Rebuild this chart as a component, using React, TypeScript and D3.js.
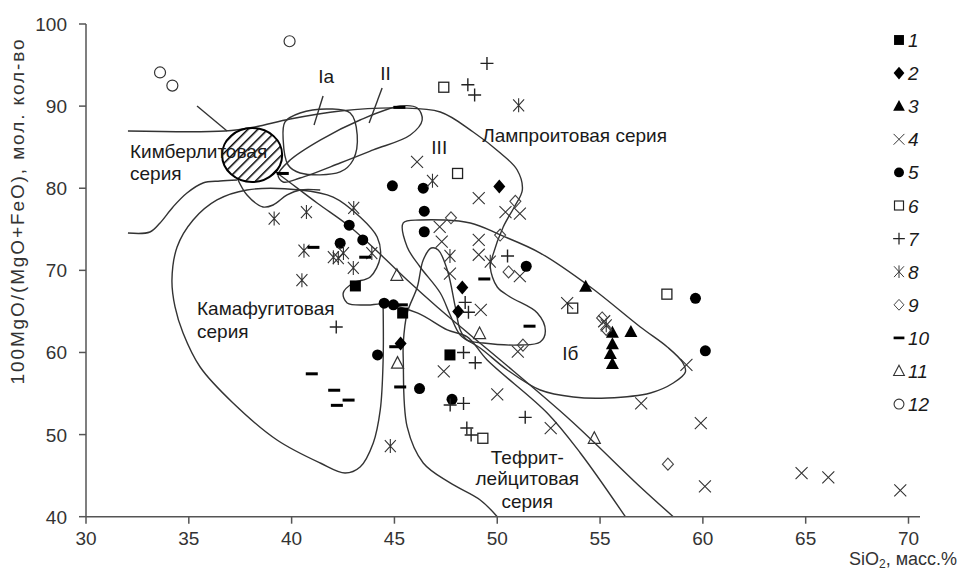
import * as d3 from "d3";

const xTicks = [30, 35, 40, 45, 50, 55, 60, 65, 70];
const yTicks = [40, 50, 60, 70, 80, 90, 100];

// point groups (SiO2, 100MgO/(MgO+FeO))
const s1 = [[43.1, 68.1], [45.4, 64.8], [47.7, 59.7]];
const s2 = [[50.1, 80.2], [48.3, 67.9], [48.1, 65.0], [45.3, 61.1]];
const s3 = [[54.3, 68.0], [56.5, 62.5], [55.6, 62.4], [55.6, 61.0], [55.5, 59.8], [55.6, 58.6]];
const s4 = [[46.1, 83.2], [49.1, 78.8], [50.4, 77.1], [51.1, 76.9], [47.2, 75.3], [47.3, 73.5], [49.1, 73.7], [49.1, 71.9], [51.1, 69.3], [47.7, 69.6], [49.2, 65.2], [53.4, 66.0], [55.2, 63.8], [51.0, 60.1], [47.4, 57.7], [50.0, 54.9], [52.6, 50.8], [59.2, 58.5], [57.0, 53.8], [59.9, 51.4], [60.1, 43.7], [64.8, 45.3], [66.1, 44.8], [69.6, 43.2]];
const s5 = [[44.9, 80.3], [46.4, 80.0], [46.45, 77.2], [46.45, 74.7], [42.8, 75.5], [43.46, 73.7], [42.36, 73.3], [44.5, 66.0], [44.95, 65.8], [44.18, 59.7], [51.41, 70.5], [46.22, 55.6], [47.8, 54.3], [59.64, 66.6], [60.12, 60.2]];
const s6 = [[47.4, 92.3], [48.07, 81.8], [53.67, 65.4], [58.25, 67.1], [49.3, 49.55]];
const s7 = [[49.5, 95.2], [48.57, 92.6], [48.9, 91.35], [50.5, 71.75], [48.44, 66.1], [48.6, 64.9], [48.36, 60.0], [48.93, 58.75], [47.71, 53.6], [48.36, 53.8], [51.36, 52.1], [48.52, 50.8], [48.73, 49.95], [42.17, 63.1]];
const s8 = [[51.04, 90.1], [46.85, 80.9], [39.15, 76.3], [40.72, 77.1], [40.6, 72.4], [40.5, 68.8], [43.02, 77.6], [42.03, 71.6], [42.27, 71.5], [42.52, 72.1], [43.0, 70.3], [43.9, 72.1], [47.7, 71.75], [49.66, 71.05], [55.3, 63.3], [44.8, 48.6]];
const s9 = [[47.75, 76.4], [50.88, 78.4], [50.14, 74.3], [50.55, 69.8], [51.25, 60.9], [55.1, 64.2], [55.3, 62.8], [58.3, 46.4]];
const s10 = [[45.24, 89.85], [39.57, 81.8], [41.06, 72.8], [43.58, 71.6], [45.36, 65.8], [45.04, 60.7], [49.37, 68.95], [51.57, 63.2], [45.28, 55.8], [40.98, 57.4], [42.07, 55.4], [42.77, 54.2], [42.2, 53.56]];
const s11 = [[45.12, 69.4], [45.15, 58.7], [49.14, 62.3], [54.72, 49.55]];
const s12 = [[33.6, 94.1], [34.2, 92.5], [39.9, 97.9]];

const seriesLabels = ["1", "2", "3", "4", "5", "6", "7", "8", "9", "10", "11", "12"];
const seriesKinds = ["sqF", "diaF", "triF", "x", "dot", "sqO", "plus", "ast", "diaO", "dash", "triO", "circO"];
const seriesPts = [s1, s2, s3, s4, s5, s6, s7, s8, s9, s10, s11, s12];

// field boundaries (data units)
const lamproiteLine = [[32.04, 86.97], [36.76, 86.97], [38.22, 87.46], [39.93, 88.43], [42.36, 89.41], [45.28, 89.77], [47.23, 89.28], [48.83, 86.85], [50.15, 84.29], [50.97, 82.22], [51.22, 79.79], [50.83, 77.72], [50.29, 75.28], [49.76, 71.63], [49.66, 70.41], [50.0, 67.97], [50.63, 66.76], [51.95, 64.81], [52.34, 62.62], [52.09, 61.28], [51.12, 60.91], [49.32, 61.15], [48.54, 61.52], [48.2, 62.74], [47.96, 65.54], [47.57, 70.04], [47.13, 72.48], [46.79, 72.72], [46.4, 71.26], [46.11, 67.97], [45.62, 64.81], [45.43, 61.15], [45.43, 59.08], [45.62, 50.93], [46.4, 46.54], [47.71, 44.11], [49.17, 42.04], [50.0, 40.0]];
const kamafugiteLine = [[56.23, 40.0], [54.04, 47.76], [52.43, 52.63], [49.51, 59.08], [48.54, 61.89], [47.57, 62.74], [46.11, 64.81], [44.45, 65.9], [43.67, 65.78], [42.7, 66.03], [42.51, 67.24], [42.99, 68.46], [43.82, 69.19], [44.31, 71.63], [44.16, 74.06], [43.33, 76.5], [42.02, 78.93], [40.41, 79.79], [37.83, 79.79], [36.37, 78.57], [35.21, 76.13], [34.43, 72.84], [34.18, 68.83], [34.33, 65.54], [34.72, 62.37], [35.55, 58.23], [37.15, 53.85], [39.29, 49.34], [41.39, 46.54], [42.6, 45.32], [43.33, 46.05], [43.97, 48.98], [44.31, 53.0], [44.45, 59.08], [44.45, 65.54]];
const kimberliteLow = [[32.04, 74.55], [33.11, 74.67], [33.6, 75.77], [34.23, 77.72], [34.91, 79.42], [35.69, 80.64], [36.52, 80.88], [37.35, 81.0]];
const waveLine = [[37.35, 81.25], [37.83, 79.18], [38.61, 77.72], [39.1, 77.96], [39.78, 79.18], [40.41, 79.79], [41.39, 79.79]];
const tephriteLine = [[38.71, 82.83], [39.29, 81.86], [41.24, 78.2], [42.85, 75.28], [44.45, 71.63], [45.62, 68.83], [47.08, 65.54], [48.69, 62.13], [50.15, 59.08], [53.55, 51.78], [56.96, 43.62], [58.56, 40.0]];
const fieldIb = [[45.43, 75.77], [46.25, 76.13], [48.69, 75.77], [50.15, 74.31], [52.09, 72.11], [54.53, 67.97], [56.96, 63.1], [58.27, 60.67], [59.0, 58.84], [59.15, 57.62], [58.56, 56.28], [57.45, 55.07], [55.35, 54.46], [53.7, 54.58], [52.09, 55.43], [50.49, 57.87], [49.17, 60.55], [48.2, 62.13], [47.71, 64.56], [47.23, 67.24], [46.25, 70.41], [45.62, 72.84]];
const fieldIa = [[39.68, 88.07], [40.41, 89.16], [41.87, 89.65], [42.85, 89.16], [43.19, 86.48], [42.99, 83.44], [42.36, 81.98], [40.41, 81.86], [39.83, 82.83], [39.59, 85.87]];
const fieldII = [[39.34, 81.61], [39.93, 83.44], [41.39, 85.87], [43.33, 88.31], [45.28, 90.01], [46.11, 89.77], [46.35, 88.31], [45.77, 86.48], [43.97, 84.66], [42.36, 83.07], [40.41, 81.25], [39.59, 80.76]];
const kimberliteCore = { cx: 38.08, cy: 84.05, rx: 1.46, ry: 3.29 };
const pointers = [
  [[35.4, 90.01], [36.86, 86.97]],
  [[41.53, 91.23], [41.09, 87.7]],
  [[44.4, 92.21], [43.77, 87.94]],
];

const fieldLabels = [
  { t: "Кимберлитовая", x: 32.14, y: 83.68, a: "start" },
  { t: "серия", x: 32.14, y: 81.0, a: "start" },
  { t: "Камафугитовая", x: 35.4, y: 64.56, a: "start" },
  { t: "серия", x: 35.4, y: 61.76, a: "start" },
  { t: "Лампроитовая серия", x: 49.27, y: 85.63, a: "start" },
  { t: "III", x: 47.18, y: 84.17, a: "middle" },
  { t: "Ia", x: 41.29, y: 92.82, a: "start" },
  { t: "II", x: 44.31, y: 93.18, a: "start" },
  { t: "Iб", x: 53.16, y: 59.08, a: "start" },
  { t: "Тефрит-", x: 51.46, y: 46.42, a: "middle" },
  { t: "лейцитовая", x: 51.46, y: 43.86, a: "middle" },
  { t: "серия", x: 51.46, y: 41.06, a: "middle" },
];

const W = 973;
const H = 570;
const FONT = "'Liberation Sans', Arial, sans-serif";
const INK = "#1a1a1a";

const x = d3.scaleLinear().domain([30, 70]).range([86, 908.5]);
const y = d3.scaleLinear().domain([40, 100]).range([516.7, 24]);

const openLine = d3.line<number[]>().x((d) => x(d[0])).y((d) => y(d[1])).curve(d3.curveCatmullRom.alpha(0.5));
const closedLine = d3.line<number[]>().x((d) => x(d[0])).y((d) => y(d[1])).curve(d3.curveCatmullRomClosed.alpha(0.5));

function Marker({ kind, cx, cy, k = 1 }: { kind: string; cx: number; cy: number; k?: number }) {
  const t = `translate(${cx},${cy}) scale(${k})`;
  switch (kind) {
    case "sqF":
      return <rect transform={t} x={-5.5} y={-5.5} width={11} height={11} fill="#000" />;
    case "diaF":
      return <path transform={t} d="M0,-7L6,0L0,7L-6,0Z" fill="#000" />;
    case "triF":
      return <path transform={t} d="M0,-7L6.5,5L-6.5,5Z" fill="#000" />;
    case "x":
      return <path transform={t} d="M-6,-6L6,6M-6,6L6,-6" stroke="#333" strokeWidth={1.1} fill="none" />;
    case "dot":
      return <circle transform={t} r={5.5} fill="#000" />;
    case "sqO":
      return <rect transform={t} x={-5} y={-5} width={10} height={10} fill="none" stroke="#222" strokeWidth={1.3} />;
    case "plus":
      return <path transform={t} d="M-6.5,0H6.5M0,-6.5V6.5" stroke="#222" strokeWidth={1.4} fill="none" />;
    case "ast":
      return <path transform={t} d="M-5.5,-6L5.5,6M-5.5,6L5.5,-6M0,-7V7" stroke="#333" strokeWidth={1.1} fill="none" />;
    case "diaO":
      return <path transform={t} d="M0,-6L5.5,0L0,6L-5.5,0Z" stroke="#444" strokeWidth={1.1} fill="none" />;
    case "dash":
      return <rect transform={t} x={-6} y={-1.5} width={12} height={3} fill="#000" />;
    case "triO":
      return <path transform={t} d="M0,-6.5L6,5L-6,5Z" stroke="#333" strokeWidth={1.2} fill="none" />;
    default:
      return <circle transform={t} r={5.5} fill="none" stroke="#333" strokeWidth={1.2} />;
  }
}

export default function App() {
  const e = kimberliteCore;
  return (
    <svg width={W} height={H} style={{ position: "absolute", left: 0, top: 0, background: "#fff" }} fontFamily={FONT}>
      <defs>
        <pattern id="hatch" patternUnits="userSpaceOnUse" width={7} height={7} patternTransform="rotate(45)">
          <rect width={7} height={7} fill="#fff" />
          <line x1={0} y1={0} x2={0} y2={7} stroke="#000" strokeWidth={3} />
        </pattern>
      </defs>

      {/* field outlines */}
      <g fill="none" stroke="#333" strokeWidth={1.4}>
        {[lamproiteLine, kamafugiteLine, kimberliteLow, waveLine, tephriteLine].map((p, i) => (
          <path key={i} d={openLine(p) ?? ""} />
        ))}
        {[fieldIb, fieldIa, fieldII].map((p, i) => (
          <path key={"c" + i} d={closedLine(p) ?? ""} />
        ))}
        {pointers.map((p, i) => (
          <line key={"p" + i} x1={x(p[0][0])} y1={y(p[0][1])} x2={x(p[1][0])} y2={y(p[1][1])} />
        ))}
      </g>
      <ellipse
        cx={x(e.cx)}
        cy={y(e.cy)}
        rx={x(e.cx + e.rx) - x(e.cx)}
        ry={y(e.cy) - y(e.cy + e.ry)}
        fill="url(#hatch)"
        stroke="#000"
        strokeWidth={2}
      />

      {/* field names */}
      <g fill={INK} fontSize={19}>
        {fieldLabels.map((l, i) => (
          <text key={i} x={x(l.x)} y={y(l.y)} textAnchor={l.a}>
            {l.t}
          </text>
        ))}
      </g>

      {/* points */}
      {seriesPts.map((pts, si) => (
        <g key={si}>
          {pts.map((p, i) => (
            <Marker key={i} kind={seriesKinds[si]} cx={x(p[0])} cy={y(p[1])} />
          ))}
        </g>
      ))}

      {/* legend */}
      <g fontSize={19} fontStyle="italic" fill={INK}>
        {seriesLabels.map((lab, i) => (
          <g key={lab} transform={`translate(899,${40 + i * 33.1})`}>
            <Marker kind={seriesKinds[i]} cx={0} cy={0} k={0.9} />
            <text x={9} y={7}>
              {lab}
            </text>
          </g>
        ))}
      </g>

      {/* axes */}
      <g stroke="#555" strokeWidth={1.5}>
        <line x1={86} x2={86} y1={y(100)} y2={y(40)} />
        <line x1={86} x2={920} y1={y(40)} y2={y(40)} />
        {yTicks.map((t) => (
          <line key={"yt" + t} x1={79} x2={86} y1={y(t)} y2={y(t)} />
        ))}
        {xTicks.map((t) => (
          <line key={"xt" + t} x1={x(t)} x2={x(t)} y1={y(40)} y2={y(40) + 7} />
        ))}
      </g>
      <g fontSize={19} fill="#333">
        {yTicks.map((t) => (
          <text key={"yl" + t} x={67} y={y(t) + 7} textAnchor="end">
            {t}
          </text>
        ))}
        {xTicks.map((t) => (
          <text key={"xl" + t} x={x(t)} y={545} textAnchor="middle">
            {t}
          </text>
        ))}
      </g>
      <text x={849} y={565} fontSize={18} fill="#333">
        SiO
        <tspan fontSize={12} dy={3}>2</tspan>
        <tspan dy={-3}>, масс.%</tspan>
      </text>
      <text
        transform="translate(24,212) rotate(-90)"
        textAnchor="middle"
        fontSize={19}
        fill="#333"
        textLength={345}
        lengthAdjust="spacing"
      >
        100MgO/(MgO+FeO),  мол. кол-во
      </text>
    </svg>
  );
}
